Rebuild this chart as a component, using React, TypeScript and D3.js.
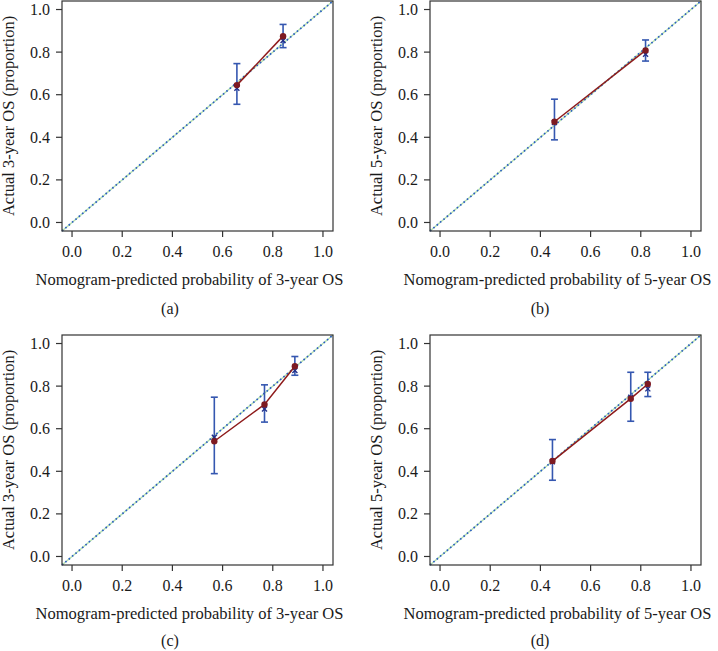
import React from "react";
import * as d3 from "d3";

// Panel definitions
const panelLabels = ["(a)", "(b)", "(c)", "(d)"];
const yearLabels = ["3", "5", "3", "5"];

// Observed (dots, connected by red line) per panel
const predA = [0.657, 0.841];
const obsA = [0.645, 0.875];
const loA = [0.555, 0.821];
const hiA = [0.746, 0.930];
const bcA = [0.630, 0.855];

const predB = [0.456, 0.819];
const obsB = [0.473, 0.808];
const loB = [0.388, 0.758];
const hiB = [0.579, 0.857];
const bcB = [0.470, 0.790];

const predC = [0.567, 0.767, 0.888];
const obsC = [0.541, 0.714, 0.893];
const loC = [0.389, 0.631, 0.851];
const hiC = [0.748, 0.806, 0.939];
const bcC = [0.560, 0.692, 0.873];

const predD = [0.448, 0.760, 0.828];
const obsD = [0.448, 0.741, 0.810];
const loD = [0.358, 0.635, 0.751];
const hiD = [0.549, 0.865, 0.865];
const bcD = [0.445, 0.748, 0.787];

const tickValues = [0, 0.2, 0.4, 0.6, 0.8, 1.0];

const panelData = [
  { pred: predA, obs: obsA, lo: loA, hi: hiA, bc: bcA },
  { pred: predB, obs: obsB, lo: loB, hi: hiB, bc: bcB },
  { pred: predC, obs: obsC, lo: loC, hi: hiC, bc: bcC },
  { pred: predD, obs: obsD, lo: loD, hi: hiD, bc: bcD },
];

const layout = [
  { left: 62, top: 1, capX: 170, capY: 314 },
  { left: 430, top: 1, capX: 540, capY: 314 },
  { left: 62, top: 335, capX: 170, capY: 646 },
  { left: 430, top: 335, capX: 540, capY: 646 },
];

const W = 271;
const H = 230;
const FONT = "'Liberation Serif', 'DejaVu Serif', serif";

function Panel({ i }: { i: number }) {
  const d = panelData[i];
  const L = layout[i];
  const x = d3.scaleLinear().domain([-0.04, 1.04]).range([L.left, L.left + W]);
  const y = d3.scaleLinear().domain([-0.04, 1.04]).range([L.top + H, L.top]);
  const fmt = d3.format(".1f");
  const line = d3.line<number>().x((_, k) => x(d.pred[k])).y((v) => y(v));
  const diag = [-0.04, 1.04];
  const cap = 3.5;
  const xs = 2.5;
  return (
    <g>
      {/* diagonal */}
      <line x1={x(diag[0])} y1={y(diag[0])} x2={x(diag[1])} y2={y(diag[1])} stroke="#b5e0ac" strokeWidth={1.4} />
      <line x1={x(diag[0])} y1={y(diag[0])} x2={x(diag[1])} y2={y(diag[1])} stroke="#2a5cc4" strokeWidth={1.7} strokeDasharray="1.6,2.8" />
      {/* error bars */}
      {d.pred.map((p, k) => (
        <g key={"e" + k} stroke="#3557b0" strokeWidth={1.6}>
          <line x1={x(p)} x2={x(p)} y1={y(d.lo[k])} y2={y(d.hi[k])} />
          <line x1={x(p) - cap} x2={x(p) + cap} y1={y(d.lo[k])} y2={y(d.lo[k])} />
          <line x1={x(p) - cap} x2={x(p) + cap} y1={y(d.hi[k])} y2={y(d.hi[k])} />
        </g>
      ))}
      {/* bias corrected x marks */}
      {d.pred.map((p, k) => (
        <g key={"x" + k} stroke="#23308a" strokeWidth={1.4}>
          <line x1={x(p) - xs} x2={x(p) + xs} y1={y(d.bc[k]) - xs} y2={y(d.bc[k]) + xs} />
          <line x1={x(p) - xs} x2={x(p) + xs} y1={y(d.bc[k]) + xs} y2={y(d.bc[k]) - xs} />
        </g>
      ))}
      {/* observed line */}
      <path d={line(d.obs) || ""} fill="none" stroke="#8e1b1b" strokeWidth={1.5} />
      {d.pred.map((p, k) => (
        <circle key={"c" + k} cx={x(p)} cy={y(d.obs[k])} r={3.2} fill="#7d1a22" />
      ))}
      {/* frame */}
      <rect x={L.left} y={L.top} width={W} height={H} fill="none" stroke="#333" strokeWidth={1.2} />
      {/* x axis */}
      {tickValues.map((t) => (
        <g key={"xt" + t}>
          <line x1={x(t)} x2={x(t)} y1={L.top + H} y2={L.top + H + 6} stroke="#333" strokeWidth={1.2} />
          <text x={x(t)} y={L.top + H + 26} textAnchor="middle" fontSize={16} fontFamily={FONT} fill="#1a1a1a">
            {fmt(t)}
          </text>
        </g>
      ))}
      {tickValues.map((t) => (
        <g key={"yt" + t}>
          <line x1={L.left - 6} x2={L.left} y1={y(t)} y2={y(t)} stroke="#333" strokeWidth={1.2} />
          <text x={L.left - 12} y={y(t) + 5.5} textAnchor="end" fontSize={16} fontFamily={FONT} fill="#1a1a1a">
            {fmt(t)}
          </text>
        </g>
      ))}
      <text x={L.left + W / 2 - 8} y={L.top + H + 54} textAnchor="middle" fontSize={16.5} fontFamily={FONT} fill="#1a1a1a">
        {`Nomogram-predicted probability of ${yearLabels[i]}-year OS`}
      </text>
      <text
        transform={`translate(${L.left - 48},${L.top + H / 2}) rotate(-90)`}
        textAnchor="middle"
        fontSize={16.5}
        fontFamily={FONT}
        fill="#1a1a1a"
      >
        {`Actual ${yearLabels[i]}-year OS (proportion)`}
      </text>
      <text x={L.capX} y={L.capY} textAnchor="middle" fontSize={16} fontFamily={FONT} fill="#1a1a1a">
        {panelLabels[i]}
      </text>
    </g>
  );
}

export default function App() {
  return (
    <svg width={718} height={651} style={{ position: "absolute", left: 0, top: 0, background: "#fff" }}>
      <rect width={718} height={651} fill="#fff" />
      {[0, 1, 2, 3].map((i) => (
        <Panel key={i} i={i} />
      ))}
    </svg>
  );
}
